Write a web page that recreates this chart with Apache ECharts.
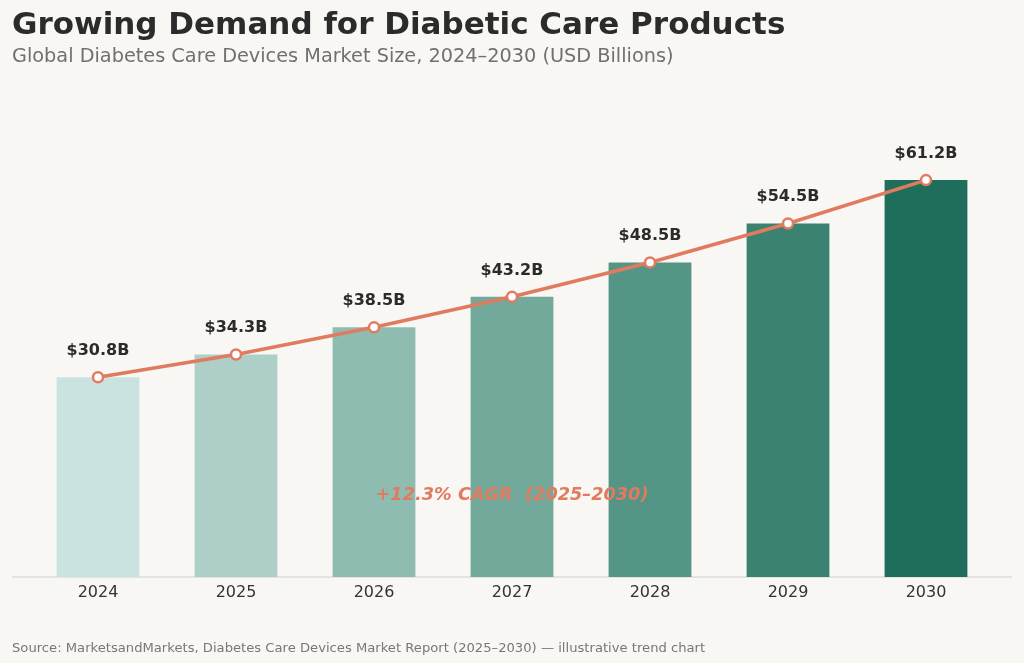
<!DOCTYPE html>
<html><head><meta charset="utf-8">
<script src="https://cdn.jsdelivr.net/npm/echarts@6/dist/echarts.min.js"></script>
<style>html,body{margin:0;background:#f9f7f3}#main{width:1024px;height:663px}</style>
</head><body><div id="main"></div>
<script>
var years = ['2024', '2025', '2026', '2027', '2028', '2029', '2030'];
var marketSize = [30.8, 34.3, 38.5, 43.2, 48.5, 54.5, 61.2];
var barColors = ['#cbe3e0', '#aecfc8', '#8fbcb1', '#72a99b', '#559585', '#3b8270', '#1f6e5c'];

var chart = echarts.init(document.getElementById('main'));
var font = 'DejaVu Sans';
chart.setOption({
    backgroundColor: '#f9f7f3',
    textStyle: {fontFamily: font},
    title: [
        {text: 'Growing Demand for Diabetic Care Products', left: 7, top: 5,
         textStyle: {fontSize: 31, fontWeight: 'bold', color: '#2b2b2b', fontFamily: font}},
        {text: 'Global Diabetes Care Devices Market Size, 2024–2030 (USD Billions)', left: 7, top: 42,
         textStyle: {fontSize: 19.3, fontWeight: 'normal', color: '#707070', fontFamily: font}},
        {text: 'Source: MarketsandMarkets, Diabetes Care Devices Market Report (2025–2030) — illustrative trend chart',
         left: 7, top: 637, textStyle: {fontSize: 13.15, fontWeight: 'normal', color: '#777', fontFamily: font}},
        {text: '+12.3% CAGR  (2025–2030)', left: 507, top: 481, textAlign: 'center',
         textStyle: {fontSize: 17.7, fontWeight: 'bold', fontStyle: 'italic', color: '#e07b5f', fontFamily: font}}
    ],
    graphic: [{type: 'line', shape: {x1: 12, y1: 577, x2: 1012, y2: 577},
               style: {stroke: '#cfcfcf', lineWidth: 1}}],
    grid: {left: 29, right: 29, top: 123, bottom: 86},
    xAxis: {
        type: 'category', data: years,
        axisLine: {show: false},
        axisTick: {show: false},
        axisLabel: {fontSize: 16, color: '#333', margin: 8}
    },
    yAxis: {type: 'value', min: 0, max: 70, show: false, splitLine: {show: false}},
    series: [
        {
            type: 'bar', barWidth: '60%',
            data: marketSize.map(function (v, i) {
                return {value: v, itemStyle: {color: barColors[i]}};
            })
        },
        {
            type: 'line', data: marketSize,
            lineStyle: {color: '#e07b5f', width: 3.5},
            symbol: 'circle', symbolSize: 10,
            itemStyle: {color: '#fff', borderColor: '#e07b5f', borderWidth: 2.5},
            label: {show: true, position: 'top', distance: 12, fontSize: 16, fontWeight: 'bold', color: '#2b2b2b',
                    formatter: function (p) { return '$' + p.value.toFixed(1) + 'B'; }},
            z: 3
        }
    ]
});
</script></body></html>
